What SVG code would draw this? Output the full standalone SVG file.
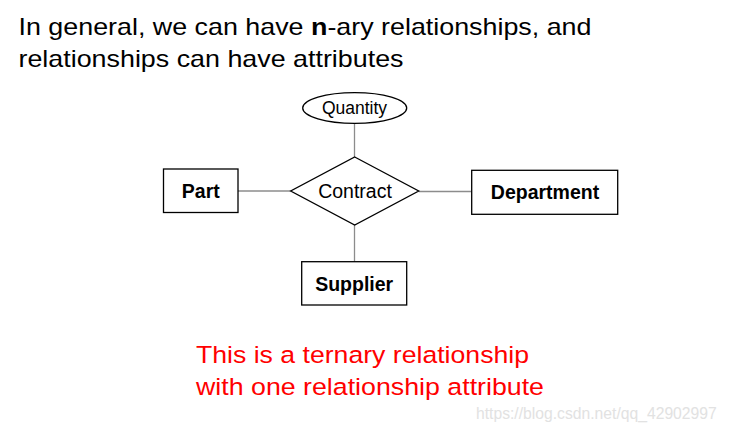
<svg xmlns="http://www.w3.org/2000/svg" width="729" height="433" viewBox="0 0 729 433">
<style>
text{font-family:"Liberation Sans",Arial,sans-serif}
.ent{fill:#fff;stroke:#000;stroke-width:1.3}
.lbl{font-size:19.5px;text-anchor:middle;fill:#000}
.b{font-weight:bold}
.conn line{stroke:#8c8c8c;stroke-width:1.3}
.hdr{font-size:24px;fill:#000}
.red{font-size:24.5px;fill:#ff0000}
</style>
<rect width="729" height="433" fill="#fff"/>
<text class="hdr" x="18.5" y="35" textLength="573" lengthAdjust="spacingAndGlyphs">In general, we can have <tspan font-weight="bold">n</tspan>-ary relationships, and</text>
<text class="hdr" x="18.5" y="66.5" textLength="385" lengthAdjust="spacingAndGlyphs">relationships can have attributes</text>
<g class="conn" id="connectors">
<line x1="354.5" y1="123.5" x2="354.5" y2="157"/>
<line x1="238" y1="191" x2="290.7" y2="191"/>
<line x1="418.7" y1="191.5" x2="471.7" y2="191.5"/>
<line x1="354.5" y1="225" x2="354.5" y2="261.7"/>
</g>
<g id="quantity">
<ellipse class="ent" cx="354.7" cy="108" rx="52" ry="15.3"/>
<text class="lbl" x="354.5" y="114.3" style="font-size:17.5px">Quantity</text>
</g>
<g id="contract">
<polygon class="ent" points="354.7,157 418.7,191 354.7,225 290.7,191"/>
<text class="lbl" x="355" y="198.3">Contract</text>
</g>
<g id="part">
<rect class="ent" x="163.5" y="169" width="74.5" height="43.5"/>
<text class="lbl b" x="200.8" y="198.3">Part</text>
</g>
<g id="department">
<rect class="ent" x="471.7" y="170.3" width="146" height="44"/>
<text class="lbl b" x="545" y="199.3">Department</text>
</g>
<g id="supplier">
<rect class="ent" x="301.7" y="261.7" width="105" height="43.3"/>
<text class="lbl b" x="354.2" y="291">Supplier</text>
</g>
<text class="red" x="196" y="362.5" textLength="333" lengthAdjust="spacingAndGlyphs">This is a ternary relationship</text>
<text class="red" x="196" y="394.7" textLength="348" lengthAdjust="spacingAndGlyphs">with one relationship attribute</text>
<text x="476" y="419.3" style="font-size:15.7px;fill:#e2e2e2">https://blog.csdn.net/qq_42902997</text>
</svg>
